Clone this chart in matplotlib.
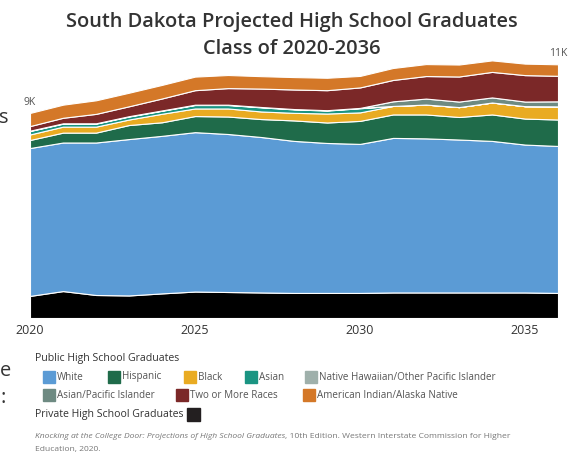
import numpy as np
import matplotlib
matplotlib.use("Agg")
import matplotlib.pyplot as plt
from matplotlib.patches import Rectangle

plt.rcParams['font.family'] = ['Open Sans', 'DejaVu Sans']

# Данні (оцінені з графіка)
years = list(range(2020, 2037))
private = [960, 1170, 1000, 980, 1070, 1150, 1130, 1110, 1090, 1090, 1090, 1110, 1110, 1110, 1110, 1110, 1090]
white = [6430, 6460, 6630, 6800, 6850, 6930, 6870, 6760, 6610, 6520, 6480, 6720, 6700, 6650, 6590, 6430, 6390]
hispanic = [350, 430, 430, 610, 590, 700, 760, 780, 890, 890, 1000, 1020, 1040, 980, 1150, 1130, 1150]
black = [240, 260, 260, 240, 370, 330, 350, 330, 330, 390, 370, 370, 430, 430, 520, 540, 570]
asian = [150, 130, 130, 130, 130, 150, 150, 180, 150, 130, 180, 0, 0, 0, 0, 0, 0]
nhpi = [15, 15, 15, 15, 15, 15, 15, 15, 15, 15, 15, 0, 0, 0, 0, 0, 0]
api = [0, 0, 0, 0, 0, 0, 0, 0, 0, 0, 0, 200, 260, 240, 220, 200, 220]
two_more = [200, 240, 410, 430, 520, 630, 720, 800, 850, 870, 890, 930, 980, 1090, 1110, 1150, 1110]
am_indian = [570, 570, 590, 590, 590, 590, 570, 540, 540, 540, 500, 520, 520, 520, 500, 500, 500]

series = [private, white, hispanic, black, asian, nhpi, api, two_more, am_indian]
colors = ['#000000', '#5b9bd5', '#1f6b4a', '#e9ab22', '#1a9482', '#9fb0ab',
          '#6e8a82', '#7b2828', '#d47828']

legend_rows = [
    [('White', '#5b9bd5', 43), ('Hispanic', '#1f6b4a', 108), ('Black', '#e9ab22', 184),
     ('Asian', '#1a9482', 245), ('Native Hawaiian/Other Pacific Islander', '#9fb0ab', 305)],
    [('Asian/Pacific Islander', '#6e8a82', 43), ('Two or More Races', '#7b2828', 176),
     ('American Indian/Alaska Native', '#d47828', 303)],
]

W, H = 570, 458
fig = plt.figure(figsize=(W / 100, H / 100), dpi=100)


def fx(x):
    return x / W


def fy(y):
    return 1 - y / H


ax = fig.add_axes([fx(30), fy(318), fx(528), 268 / H])
ax.stackplot(years, *series, colors=colors, edgecolor='white', linewidth=0.8)
ax.set_xlim(2020, 2036)
ax.set_ylim(0, 268 / 23 * 1000)
for s in ax.spines.values():
    s.set_visible(False)
ax.set_yticks([])
ax.set_xticks([2020, 2025, 2030, 2035])
ax.tick_params(axis='x', length=0, pad=4, labelsize=9, labelcolor='#333333')

totals = np.sum(series, axis=0)
for i in (0, len(years) - 1):
    ax.annotate(f"{round(totals[i] / 1000)}K", (years[i], totals[i]),
                xytext=(0, 5), textcoords='offset pixels', ha='center', va='bottom',
                fontsize=7.5, color='#555555', annotation_clip=False)

# Заголовок
fig.text(fx(292), fy(22), "South Dakota Projected High School Graduates", ha='center',
         va='center', fontsize=14.4, fontweight='semibold', color='#333333')
fig.text(fx(292), fy(49), "Class of 2020-2036", ha='center', va='center',
         fontsize=14.4, fontweight='semibold', color='#333333')

# обрізаний текст зліва
fig.text(fx(9), fy(118), "s", ha='right', va='center', fontsize=14.4, color='#333333')
fig.text(fx(11), fy(371), "e", ha='right', va='center', fontsize=14.4, color='#333333')
fig.text(fx(6), fy(398), ":", ha='right', va='center', fontsize=14.4, color='#333333')

# Легенда
fig.text(fx(35), fy(358), "Public High School Graduates", ha='left', va='center',
         fontsize=7.6, color='#333333')
for row, ypix in zip(legend_rows, [377, 395]):
    for name, col, xpix in row:
        fig.add_artist(Rectangle((fx(xpix), fy(ypix + 6)), 12 / W, 12 / H,
                                 transform=fig.transFigure, color=col))
        fig.text(fx(xpix + 14), fy(ypix), name, ha='left', va='center',
                 fontsize=7.1, color='#555555')
fig.text(fx(35), fy(415), "Private High School Graduates", ha='left', va='center',
         fontsize=7.6, color='#333333')
fig.add_artist(Rectangle((fx(187), fy(421)), 13 / W, 13 / H,
                         transform=fig.transFigure, color='#231f20'))

# Джерело
t1 = fig.text(fx(35), fy(437), "Knocking at the College Door: Projections of High School Graduates",
              ha='left', va='center', fontsize=6.1, style='italic', color='#777777')
fig.canvas.draw()
bb = t1.get_window_extent(fig.canvas.get_renderer())
fig.text(bb.x1 / fig.bbox.width, fy(437),
         ", 10th Edition. Western Interstate Commission for Higher",
         ha='left', va='center', fontsize=6.1, color='#777777')
fig.text(fx(35), fy(450), "Education, 2020.", ha='left', va='center',
         fontsize=6.1, color='#777777')

fig.savefig('out.png', dpi=100)
